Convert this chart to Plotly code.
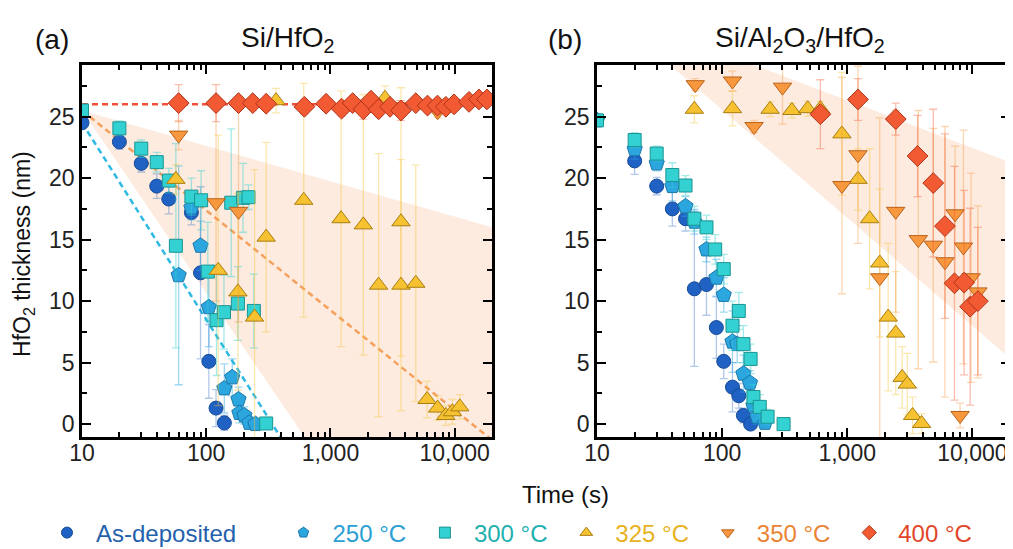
import plotly.graph_objects as go
from plotly.subplots import make_subplots
import numpy as np

# ---------------- data: panel (a) Si/HfO2 ----------------
asdep_a_t = [10, 20, 30, 40, 50, 76, 90, 105, 120, 140]
asdep_a_y = [24.5, 22.95, 21.2, 19.35, 18.3, 17.2, 12.3, 5.1, 1.3, 0.1]
asdep_a_e = [0.5, 0.6, 0.7, 1.0, 1.2, 1.0, 7.0, 3.0, 1.5, 0.6]

c250_a_t = [76, 90, 60, 105, 140, 162, 182, 185, 203, 222, 249]
c250_a_y = [17.6, 14.5, 12.1, 9.5, 2.9, 3.8, 2.0, 0.9, 0.7, 0.1, 0.0]
c250_a_e = [1.0, 2.0, 8.9, 3.2, 2.0, 1.5, 1.0, 0.8, 0.7, 0.5, 0.4]

c300_a_t = [10, 20, 30, 40, 50, 76, 91, 159, 198, 219, 57, 103, 121, 139, 180, 242, 304]
c300_a_y = [25.5, 24.05, 22.4, 21.3, 19.8, 18.5, 18.2, 18.0, 18.4, 18.45, 14.5, 12.4, 8.45, 9.1, 9.8, 9.2, 0.05]
c300_a_e = [0.3, 0.6, 0.7, 0.8, 1.0, 1.5, 2.4, 6.0, 2.8, 1.0, 8.3, 4.0, 4.5, 3.0, 3.0, 3.0, 0.4]

c325_a_t = [57, 125, 180, 245, 304, 365, 610, 1219, 1841, 2443, 2750, 3700, 3700, 4870, 6000, 7300, 8500, 9600, 11000]
c325_a_y = [19.9, 12.5, 10.75, 8.7, 15.2, 26.3, 18.2, 16.7, 16.2, 11.3, 26.5, 16.45, 11.3, 11.45, 2.0, 1.3, 0.7, 1.0, 1.4]
c325_a_e = [1.2, 11.0, 8.0, 12.0, 7.7, 1.0, 9.5, 10.4, 10.6, 10.7, 1.0, 10.9, 10.2, 9.6, 1.5, 1.0, 0.8, 1.0, 1.0]

c350_a_t = [60, 120, 182, 3600, 7300]
c350_a_y = [23.5, 18.0, 17.3, 25.8, 25.4]
c350_a_e = [1.2, 8.0, 9.0, 0.5, 0.5]

c400_a_t = [60, 120, 182, 237, 304, 617, 923, 1230, 1510, 1841, 2123, 2443, 3020, 3700,
            4870, 6050, 7280, 8500, 9900, 13060, 15700, 18200]
c400_a_y = [26.1, 26.1, 26.1, 26.1, 26.05, 25.8, 26.05, 25.65, 26.1, 25.6, 26.3, 25.6, 25.8, 25.5,
            26.1, 25.9, 25.9, 25.8, 26.0, 26.2, 26.4, 26.4]
c400_a_e = [1.5, 1.5, 0.4, 0.4, 0.4, 0.6, 0.4, 0.6, 0.4, 0.8, 0.4, 0.6, 0.4, 0.8,
            0.4, 0.4, 0.4, 0.4, 0.4, 0.4, 0.4, 0.4]

# ---------------- data: panel (b) Si/Al2O3/HfO2 ----------------
asdep_b_t = [20, 30, 40, 51, 60, 75, 90, 103, 121, 136, 148, 169]
asdep_b_y = [21.4, 19.35, 17.5, 16.7, 11.0, 11.35, 7.85, 5.1, 3.0, 2.3, 0.7, 0.0]
asdep_b_e = [1.1, 0.7, 1.4, 1.0, 6.3, 2.5, 2.5, 1.4, 2.0, 1.0, 0.6, 0.4]

c250_b_t = [10, 20, 30, 40, 51, 60, 75, 90, 103, 121, 132, 148, 167, 178, 191, 220]
c250_b_y = [24.7, 22.35, 21.2, 19.35, 17.7, 16.45, 14.2, 11.9, 10.5, 6.7, 6.5, 4.1, 3.35, 1.5, 0.6, 0.1]
c250_b_e = [0.3, 0.8, 0.6, 1.2, 0.8, 1.0, 1.0, 1.5, 1.4, 2.5, 1.5, 1.5, 1.0, 1.0, 0.6, 0.4]

c300_b_t = [10, 20, 30, 40, 51, 60, 75, 88, 103, 121, 136, 148, 169, 178, 200, 231, 310]
c300_b_y = [24.7, 23.1, 22.0, 20.25, 19.4, 16.7, 16.0, 14.2, 12.6, 8.0, 9.2, 6.5, 5.3, 2.2, 1.4, 0.6, 0.0]
c300_b_e = [0.3, 0.6, 0.6, 1.0, 0.8, 1.0, 1.0, 1.2, 1.2, 2.0, 1.5, 1.5, 1.2, 1.0, 1.0, 0.6, 0.4]

c325_b_t = [60, 121, 242, 361, 483, 610, 907, 1219, 1510, 1820, 2125, 2443, 2750, 3020, 3330, 3930]
c325_b_y = [25.6, 25.65, 25.6, 25.5, 25.65, 25.65, 23.6, 19.9, 16.7, 13.1, 8.7, 7.4, 3.8, 3.25, 0.7, 0.05]
c325_b_e = [1.1, 1.4, 0.6, 0.6, 0.6, 0.6, 5.0, 2.5, 5.7, 6.0, 6.0, 5.0, 2.5, 2.5, 1.5, 0.8]

c350_b_t = [61, 121, 180, 304, 907, 1219, 1820, 2440, 3700, 4870, 6040, 7280, 7980, 8490, 9770, 11070]
c350_b_y = [27.6, 27.9, 24.2, 27.4, 19.4, 21.9, 11.9, 17.3, 15.0, 14.55, 13.2, 17.1, 0.7, 14.4, 11.9, 10.75]
c350_b_e = [0.5, 0.8, 0.5, 3.0, 8.8, 7.2, 13.0, 8.2, 10.5, 9.5, 11.0, 5.5, 1.0, 9.5, 8.5, 7.0]

c400_b_t = [610, 1219, 2443, 3650, 4870, 6040, 7200, 8600, 9600, 11070]
c400_b_y = [25.2, 26.4, 24.8, 21.8, 19.6, 16.1, 11.45, 11.5, 9.55, 10.0]
c400_b_e = [2.8, 1.7, 1.3, 3.3, 6.0, 7.5, 9.5, 7.5, 8.0, 6.0]

# ---------------- guide lines and shaded bands ----------------
red_line_t, red_line_y = [10, 20000], [26.0, 26.0]
orange_line_t, orange_line_y = [10, 20000], [25.5, -1.3]
cyan_line_t, cyan_line_y = [10, 20000], [24.5, -28.3]
band_a_t = [10, 20000, 20000, 10]
band_a_y = [25.5, 16.0, -23.4, 25.5]
band_b_t = [11.5, 20000, 20000, 11.5]
band_b_y = [33.8, 21.3, 5.35, 33.8]

# ---------------- axis ticks / labels ----------------
x_tickvals = [10, 100, 1000, 10000]
x_ticktext = ["10", "100", "1,000", "10,000"]
x_minorvals = [m * d for d in (10, 100, 1000) for m in range(2, 10)] + [20000]
y_tickvals = [0, 5, 10, 15, 20, 25]
series_names = ["As-deposited", "250 °C", "300 °C", "325 °C", "350 °C", "400 °C"]
legend_pad = ["\u00a0" * 5, "\u2009", "\u2009", "\u2009", "\u2009", ""]  # legend spacing

# styles
symbols = ["circle", "pentagon", "square", "triangle-up", "triangle-down", "diamond"]
sizes = [14, 16, 13, 16, 16, 16]
fills = ["#1f62c4", "#2ba6df", "#33d1d1", "#f6c232", "#f7983e", "#f25a33"]
edges = ["#154a96", "#1b77a8", "#1b9494", "#a87e10", "#b9621a", "#b03218"]
errc = ["rgba(31,98,196,0.35)", "rgba(43,166,223,0.45)", "rgba(51,209,209,0.45)",
        "rgba(246,194,50,0.40)", "rgba(247,152,62,0.40)", "rgba(242,90,51,0.40)"]
textc = ["#2461ad", "#2b9fd4", "#1fb0b0", "#e8b21f", "#ea8434", "#e2462a"]

FONT = "Liberation Sans, Arial, sans-serif"

# page body has an 8px margin -> figure is drawn 8px in from the window corner
OFF = 8
W, H = 1013 - OFF, 549 - OFF


def px(xr):
    return (xr - OFF) / W


def py(yr):
    return 1 - (yr - OFF) / H


fig = make_subplots(rows=1, cols=2)

for col, (bt, by) in enumerate([(band_a_t, band_a_y), (band_b_t, band_b_y)], start=1):
    fig.add_trace(go.Scatter(x=bt, y=by, fill="toself", mode="none",
                             fillcolor="rgba(249,190,150,0.30)",
                             showlegend=False, hoverinfo="skip"), row=1, col=col)

for lt, ly, lc in [(red_line_t, red_line_y, "#f2503c"),
                   (orange_line_t, orange_line_y, "#f5a05c"),
                   (cyan_line_t, cyan_line_y, "#2fb9e3")]:
    fig.add_trace(go.Scatter(x=lt, y=ly, mode="lines",
                             line=dict(color=lc, width=2.5, dash="6px,4px"),
                             showlegend=False, hoverinfo="skip"), row=1, col=1)

panel_a = [(asdep_a_t, asdep_a_y, asdep_a_e), (c250_a_t, c250_a_y, c250_a_e),
           (c300_a_t, c300_a_y, c300_a_e), (c325_a_t, c325_a_y, c325_a_e),
           (c350_a_t, c350_a_y, c350_a_e), (c400_a_t, c400_a_y, c400_a_e)]
panel_b = [(asdep_b_t, asdep_b_y, asdep_b_e), (c250_b_t, c250_b_y, c250_b_e),
           (c300_b_t, c300_b_y, c300_b_e), (c325_b_t, c325_b_y, c325_b_e),
           (c350_b_t, c350_b_y, c350_b_e), (c400_b_t, c400_b_y, c400_b_e)]

for col, panel in [(1, panel_a), (2, panel_b)]:
    for i, (t, y, e) in enumerate(panel):
        fig.add_trace(go.Scatter(
            x=t, y=y, mode="markers", showlegend=False,
            marker=dict(symbol=symbols[i], size=sizes[i], color=fills[i],
                        line=dict(color=edges[i], width=1)),
            error_y=dict(type="data", array=e, color=errc[i], thickness=1.3, width=4),
        ), row=1, col=col)

# legend entries (smaller markers like the reference legend)
for i, nm in enumerate(series_names):
    fig.add_trace(go.Scatter(
        x=[None], y=[None], mode="markers",
        name=f"<span style='color:{textc[i]}'>{nm}</span>" + legend_pad[i],
        marker=dict(symbol=symbols[i], size=11, color=fills[i],
                    line=dict(color=edges[i], width=1)),
        showlegend=True), row=1, col=1)

xa = dict(type="log", range=[1, np.log10(20000)], tickvals=x_tickvals, ticktext=x_ticktext,
          ticks="inside", ticklen=9, tickwidth=2, tickcolor="black",
          minor=dict(tickmode="array", tickvals=x_minorvals, ticks="inside", ticklen=5,
                     tickwidth=1.5, tickcolor="black", showgrid=False),
          showline=True, linecolor="black", linewidth=2.5, mirror="allticks",
          showgrid=False, zeroline=False, automargin=False, ticklabelstandoff=-6,
          tickfont=dict(size=23, color="#222"))
ya = dict(range=[-1.05, 29.2], tickvals=y_tickvals,
          ticks="inside", ticklen=9, tickwidth=2, tickcolor="black",
          minor=dict(ticks="inside", ticklen=5, tickwidth=1.5, tickcolor="black",
                     dtick=2.5, tick0=0, showgrid=False),
          showline=True, linecolor="black", linewidth=2.5, mirror="allticks",
          showgrid=False, zeroline=False, automargin=False, ticklabelstandoff=0,
          tickfont=dict(size=23, color="#222"))

fig.update_layout(
    width=W, height=H, margin=dict(l=0, r=0, t=0, b=0, autoexpand=False),
    paper_bgcolor="white", plot_bgcolor="white",
    font=dict(family=FONT, size=23, color="#222"),
    xaxis=dict(xa, domain=[px(82), px(492)]),
    xaxis2=dict(xa, domain=[px(597), px(1010)]),
    yaxis=dict(ya, domain=[py(437), py(65)]),
    yaxis2=dict(ya, domain=[py(437), py(65)]),
    legend=dict(orientation="h", x=px(38), xanchor="left", y=py(533), yanchor="middle",
                font=dict(size=24), itemwidth=48, tracegroupgap=0,
                bgcolor="rgba(0,0,0,0)"),
    showlegend=True,
)

ann = [
    dict(text="(a)", x=px(52), y=py(40)),
    dict(text="Si/HfO<sub>2</sub>", x=px(287), y=py(40)),
    dict(text="(b)", x=px(565), y=py(40)),
    dict(text="Si/Al<sub>2</sub>O<sub>3</sub>/HfO<sub>2</sub>", x=px(800), y=py(40)),
]
for a in ann:
    fig.add_annotation(xref="paper", yref="paper", showarrow=False,
                       xanchor="center", yanchor="middle",
                       font=dict(size=28, color="#111"), **a)
fig.add_annotation(xref="paper", yref="paper", showarrow=False,
                   text="Time (s)", x=px(565), y=py(494),
                   xanchor="center", yanchor="middle", font=dict(size=24, color="#111"))
fig.add_annotation(xref="paper", yref="paper", showarrow=False, textangle=-90,
                   text="HfO<sub>2</sub> thickness (nm)", x=px(23), y=py(254),
                   xanchor="center", yanchor="middle", font=dict(size=23, color="#111"))

fig.write_html("out.html")
